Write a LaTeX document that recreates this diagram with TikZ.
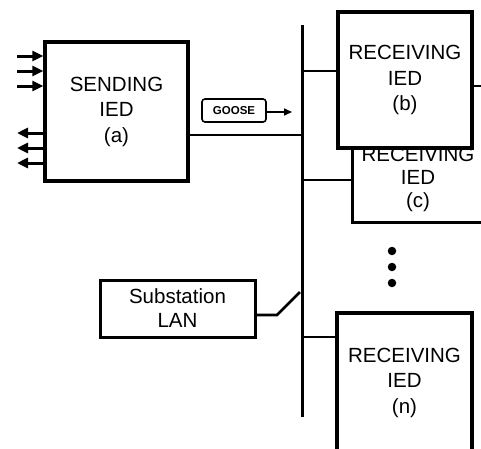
\documentclass[tikz,border=0pt]{standalone}
\usepackage{fontspec}
\setmainfont{Liberation Sans}
\usetikzlibrary{arrows.meta}
\begin{document}
\begin{tikzpicture}[x=1pt,y=-1pt,
  ied/.style={draw, line width=3.4pt, fill=white, inner sep=0pt, align=center,
    font=\fontsize{20.5}{25.5}\selectfont},
  lanbox/.style={draw, line width=3pt, fill=white, inner sep=0pt, align=center,
    font=\fontsize{20.5}{24}\selectfont},
  goosebox/.style={draw, line width=1.6pt, rounded corners=3pt, inner sep=0pt,
    font=\bfseries\fontsize{11.5}{12}\selectfont},
  busline/.style={line width=3pt},
  conn/.style={line width=2.6pt},
  io/.style={line width=3pt, -{Triangle[length=11pt,width=10pt]}},
  dot/.style={circle, fill=black, inner sep=0pt, minimum size=8.5pt}
]
\useasboundingbox (0,0) rectangle (481,448);
\clip (0,0) rectangle (481,448);
% bus
\coordinate (bustop) at (302,25);
\coordinate (busbot) at (302,417);
\draw[busline] (bustop) -- (busbot);
% sending IED
\node[ied, minimum width=143pt, minimum height=139pt] (a) at (116.5,111.5) {SENDING\\IED\\(a)};
% inputs
\coordinate (i1) at (17,56);
\coordinate (i2) at (17,71);
\coordinate (i3) at (17,86);
\draw[io] (i1) -- (a.west |- i1);
\draw[io] (i2) -- (a.west |- i2);
\draw[io] (i3) -- (a.west |- i3);
% outputs
\coordinate (o1) at (17,133);
\coordinate (o2) at (17,148);
\coordinate (o3) at (17,163);
\draw[io] (a.west |- o1) -- (o1);
\draw[io] (a.west |- o2) -- (o2);
\draw[io] (a.west |- o3) -- (o3);
% a to bus
\coordinate (ja) at (302,135);
\draw[conn] (a.east |- ja) -- (ja);
% GOOSE
\node[goosebox, minimum width=64pt, minimum height=23pt] (goose) at (234,110.5) {GOOSE};
\coordinate (gooseend) at (292,112);
\draw[line width=1.6pt, -{Triangle[length=8pt,width=7pt]}] (goose.east |- gooseend) -- (gooseend);
% receiving c (behind b; top and right edges hidden)
\node[ied, draw=none, minimum width=128pt, minimum height=84pt, font=\fontsize{20.5}{23}\selectfont] (c) at (418,179) {RECEIVING\\IED\\(c)};
\draw[line width=3.4pt] (c.north west) -- (c.south west) -- ([xshift=8pt]c.south east);
\coordinate (jc) at (302,180);
\draw[conn] (jc) -- (c.west |- jc);
% receiving b
\node[ied, minimum width=134pt, minimum height=136pt] (b) at (405,80) {RECEIVING\\IED\\(b)};
\coordinate (jb) at (302,71);
\draw[conn] (jb) -- (b.west |- jb);
\coordinate (bout) at (482,86);
\draw[conn] (b.east |- bout) -- (bout);
% dots
\node[dot] (d1) at (392,251) {};
\node[dot] (d2) at (392,267) {};
\node[dot] (d3) at (392,283) {};
% receiving n
\node[ied, minimum width=135pt, minimum height=139pt] (n) at (404.5,382.5) {RECEIVING\\IED\\(n)};
\coordinate (jn) at (302,337);
\draw[conn] (jn) -- (n.west |- jn);
% substation LAN
\node[lanbox, minimum width=155pt, minimum height=57pt] (lan) at (177.5,308.5) {Substation\\LAN};
\coordinate (sw1) at (277,315);
\coordinate (sw2) at (300,292);
\draw[conn] (lan.east |- sw1) -- (sw1) -- (sw2);
\end{tikzpicture}
\end{document}
